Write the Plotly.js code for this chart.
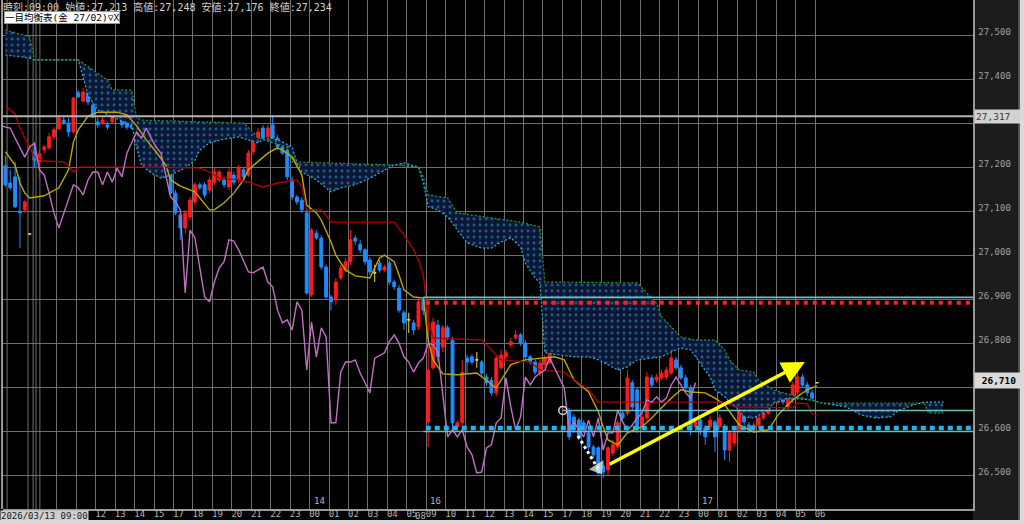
<!DOCTYPE html>
<html><head><meta charset="utf-8">
<script src="https://cdn.plot.ly/plotly-3.0.1.min.js"></script>
<style>
html,body{margin:0;padding:0;background:#d9d9d9;overflow:hidden;}
#chart{width:1020px;height:520px;}
</style></head>
<body><div id="chart"></div>
<script>
// ---- 15-minute candles (index = candle number), null = no candle ----
const opens = [27204,27165,27179,27101,27104,27049,27236,27213,27240,27245,27270,27288,27308,27301,27281,27370,27351,27370,27342,27304,27301,27297,27304,27324,27331,27304,27297,27290,27281,27251,27233,27240,27247,27201,27183,27142,27092,27063,27088,27122,27161,27161,27149,27167,27172,27172,27156,27183,27172,27195,27183,27236,27263,27290,27270,27297,27267,27247,27240,27172,27133,27126,27097,26911,27051,27040,26974,26906,26899,26949,26967,26986,27040,27026,27013,26990,26961,26983,26967,26983,26940,26926,26870,26854,26847,26838,26899,26622,26745,26842,26792,26836,26808,26611,26620,26767,26770,26763,26758,26724,26717,26688,26745,26770,26797,26813,26820,26801,26770,26758,26733,26752,26756,26804,26797,null,26647,26633,26626,26620,26597,26565,26563,26522,26513,26551,26565,26642,26642,26711,26695,26611,26631,26722,26717,26722,26724,26733,26763,26745,26722,26699,26611,26626,26608,26611,26622,26611,26611,26558,26574,26604,26638,26615,26604,26615,26631,26642,26679,26667,26679,26656,26672,26690,26724,26706,26688,26711];
const highs = [27227,27195,27213,27179,27126,27049,27256,27240,27251,27279,27292,27320,27320,27313,27361,27376,27381,27376,27349,27313,27315,27304,27342,27342,27336,27308,27304,27297,27290,27256,27251,27263,27256,27206,27190,27149,27099,27104,27133,27167,27167,27167,27179,27199,27195,27179,27199,27190,27206,27199,27240,27263,27290,27297,27297,27320,27274,27251,27245,27179,27138,27133,27104,27063,27058,27047,26979,26911,26949,26979,26995,27058,27047,27036,27017,26997,26979,26990,26979,26990,26945,26933,26876,26870,26854,26904,26904,26899,26858,26854,26842,26842,26815,26626,26763,26774,26776,26781,26763,26731,26724,26774,26786,26786,26813,26831,26824,26808,26774,26763,26763,26774,26808,26813,26804,null,26654,26640,26631,26626,26604,26570,26567,26535,26567,26581,26626,26649,26740,26717,26702,26640,26735,26729,26731,26740,26747,26781,26770,26752,26729,26706,26631,26633,26615,26636,26626,26640,26617,26604,26604,26661,26645,26622,26622,26638,26649,26681,26686,26686,26686,26683,26713,26747,26731,26713,26695,26711];
const lows = [27156,27149,27108,27017,27097,27049,27199,27176,27233,27240,27263,27286,27297,27270,27279,27358,27349,27342,27313,27290,27297,27286,27301,27320,27290,27286,27286,27263,27245,27217,27217,27236,27190,27176,27138,27092,27036,27051,27081,27115,27149,27131,27142,27161,27167,27154,27149,27161,27165,27172,27179,27229,27258,27263,27263,27263,27240,27229,27172,27126,27115,27097,26911,26906,27036,26967,26899,26876,26888,26945,26963,26979,27024,27006,26979,26956,26940,26961,26963,26933,26922,26870,26831,26824,26820,26831,26865,26565,26740,26758,26781,26808,26604,26599,26611,26733,26752,26745,26726,26704,26681,26681,26740,26763,26790,26808,26795,26763,26752,26729,26726,26745,26752,26790,26774,null,26581,26597,26581,26597,26558,26540,26501,26495,26501,26545,26558,26622,26636,26649,26597,26604,26624,26699,26711,26717,26717,26729,26740,26717,26695,26592,26599,26592,26570,26604,26554,26604,26535,26531,26567,26597,26615,26597,26597,26608,26626,26638,26661,26661,26661,26649,26665,26683,26699,26681,26672,26711];
const closes = [27161,27154,27111,27097,27122,27049,27217,27231,27247,27270,27286,27313,27301,27281,27358,27361,27372,27349,27315,27297,27308,27292,27331,27336,27297,27292,27290,27267,27247,27224,27247,27256,27195,27183,27142,27097,27063,27097,27126,27161,27154,27138,27172,27190,27190,27161,27190,27167,27199,27179,27233,27256,27281,27267,27290,27267,27247,27233,27179,27133,27122,27104,26915,27058,27040,26974,26906,26895,26940,26972,26986,27036,27033,27013,26986,26963,26961,26967,26974,26940,26929,26876,26847,26854,26831,26895,26876,26740,26849,26770,26836,26815,26620,26620,26735,26758,26758,26763,26733,26711,26688,26767,26774,26779,26804,26820,26801,26770,26758,26735,26756,26767,26801,26797,26781,null,26588,26604,26588,26604,26565,26547,26506,26508,26563,26570,26620,26631,26722,26656,26604,26633,26724,26706,26724,26733,26740,26767,26745,26722,26699,26604,26622,26604,26588,26626,26588,26631,26558,26597,26597,26649,26622,26604,26615,26631,26642,26672,26667,26679,26667,26676,26706,26724,26706,26688,26676,26711];

// ---- Ichimoku lines (x = candle index) ----
const tenkanX = [0,2,3,4,5,8,11,13,14,15,17,19,23,25,27,29,31,33,34,36,39,40,42,43,45,47,49,50,52,54,56,57,59,61,62,64,65,67,68,70,72,75,76,77,78,80,81,82,84,86,87,88,90,93,97,99,101,102,104,107,110,113,115,117,120,122,123,124,126,128,131,133,135,137,139,141,144,146,148,151,154,157,159,162,165,167];
const tenkanY = [27236,27206,27165,27142,27131,27136,27154,27195,27258,27286,27317,27326,27326,27320,27295,27263,27236,27206,27172,27158,27145,27131,27104,27104,27120,27142,27172,27195,27213,27233,27245,27240,27224,27183,27115,27097,27081,27031,27001,26967,26954,26949,26972,26995,27001,26986,26956,26922,26906,26904,26808,26763,26731,26729,26733,26717,26699,26717,26752,26763,26767,26770,26763,26717,26690,26645,26611,26581,26570,26597,26611,26631,26654,26676,26695,26690,26688,26676,26661,26615,26599,26604,26638,26672,26695,26704];
const kijunX = [0,2,3,4,6,8,12,13,14,15,32,40,42,44,48,50,53,56,60,61,62,65,67,80,82,84,85,86,87,88,98,100,102,108,110,115,117,120,122,148,150,162,163,165,166,167];
const kijunY = [27340,27322,27292,27267,27224,27215,27213,27204,27190,27201,27201,27199,27190,27176,27172,27167,27156,27165,27172,27156,27104,27104,27076,27076,27047,27013,26990,26956,26854,26813,26808,26786,26763,26758,26740,26735,26717,26695,26667,26667,26656,26654,26665,26663,26640,26638];
const spanAX = [0,5,6,15,17,19,22,26,27,28,30,32,34,37,39,40,42,45,48,50,52,53,55,57,59,60,61,64,66,67,69,72,75,78,80,82,85,86,87,89,91,95,98,100,102,104,106,107,109,110,111,114,117,120,122,124,126,128,130,133,135,137,139,141,143,145,146,148,149,151,152,154,157,158,161,166,168,173,176,179,182,184,187,189,193];
const spanAY = [27456,27449,27445,27445,27365,27331,27315,27297,27247,27206,27188,27176,27183,27199,27217,27240,27256,27265,27270,27263,27256,27263,27267,27258,27247,27211,27190,27172,27154,27145,27154,27161,27176,27195,27206,27211,27201,27165,27111,27104,27088,27029,27017,27017,27031,27040,27020,26983,26949,26938,26779,26774,26770,26770,26763,26752,26740,26747,26763,26767,26770,26781,26790,26786,26756,26724,26695,26679,26667,26649,26633,26631,26649,26665,26676,26672,26665,26656,26638,26631,26633,26649,26661,26667,26667];
const spanBX = [0,5,6,15,21,22,26,27,28,49,51,52,58,59,80,85,86,87,91,93,106,110,111,130,132,134,135,137,139,142,146,148,149,151,154,155,158,163,168,189,190,193];
const spanBY = [27513,27497,27445,27445,27399,27376,27376,27315,27308,27301,27281,27267,27247,27213,27206,27201,27179,27138,27131,27097,27076,27065,26940,26938,26915,26892,26861,26838,26815,26808,26808,26786,26763,26740,26735,26717,26695,26679,26665,26665,26642,26642];
const CHIKOU_SHIFT = 25;

// ---- axis ticks (27,300 and 26,700 labels sit under the price boxes) ----
const priceTicks = [26500,26600,26700,26800,26900,27000,27100,27200,27300,27400,27500];
const priceTickText = ['26,500','26,600','','26,800','26,900','27,000','27,100','27,200','','27,400','27,500'];
const hourLabels = ['','','12','13','14','15','17','18','19','20','21','22','23','00','01','02','03','04','05','09','10','11','12','13','14','15','17','18','19','20','21','22','23','00','01','02','03','04','05','06'];
const FIRST_HOUR_IDX = 10.6, CANDLES_PER_HOUR = 4;
const sessionMarks = [0.35, 4.65, 5.7, 6.3, 7.1];
const dayLabels = ['14','16','17'];
const dayLabelHour = [13, 19, 33];
const extraHourLabel = {text:'08', idx:85.5};

// ---- drawn levels & notes ----
const highLevel = 27317;
const lastPrice = 26710;
const bottomPriceLabel = 26400;
const resistanceLevel = 26893, resistanceStart = 86.5;
const upperTealLevel = 26905, upperTealStart = 86;
const supportLevel = 26608, supportStart = 86.5;
const lowerTealLevel = 26600, lowerTealStart = 86;
const midTealLevel = 26648, midTealStart = 114.7;
const closeMarkX = [114.7], closeMarkY = [26648];
const yellowArrowX = [124, 164.5], yellowArrowY = [26524, 26758];
const whiteArrowX = [117.8, 121.9], whiteArrowY = [26590, 26517];
const headerText = '時刻:09:00 始値:27,213 高値:27,248 安値:27,176 終値:27,234';
const indicatorText = '一目均衡表(金 27/02)▽X';
const cursorTime = '2026/03/13 09:00';

const X_RANGE = [-0.49, 199.1];
const Y_RANGE = [26424, 27581];

// ---- build ----
const idx = opens.map((_, i) => i);
const mainC = {x:[],open:[],high:[],low:[],close:[]};
const dojiC = {x:[],open:[],high:[],low:[],close:[]};
idx.forEach(i => {
  if (opens[i] === null) return;
  const t = (opens[i] === closes[i]) ? dojiC : mainC;
  t.x.push(i); t.open.push(opens[i]); t.high.push(highs[i]); t.low.push(lows[i]); t.close.push(closes[i]);
});
const hourTickVals = hourLabels.map((_, k) => FIRST_HOUR_IDX + k * CANDLES_PER_HOUR);

const RED = '#ff1a1a', BLUE = '#1e8cff', DOJI = '#e4dc3c';
const GRID = '#6e6e6e';
const traces = [
  {type:'scatter', mode:'lines', x:spanAX, y:spanAY, line:{color:'#38b0c6', width:1.2, dash:'2px,2px'}, hoverinfo:'skip'},
  {type:'scatter', mode:'lines', x:spanBX, y:spanBY, line:{color:'#2c9c2c', width:1.2, dash:'2px,2px'},
   fill:'tonexty', fillcolor:'#0a1836',
   fillpattern:{shape:'.', fgcolor:'#25598c', bgcolor:'#0a1836', size:6, solidity:0.18}, hoverinfo:'skip'},
  {type:'candlestick', x:mainC.x, open:mainC.open, high:mainC.high, low:mainC.low, close:mainC.close,
   increasing:{line:{color:RED, width:1}, fillcolor:RED},
   decreasing:{line:{color:BLUE, width:1}, fillcolor:BLUE}, whiskerwidth:0, hoverinfo:'skip'},
  {type:'candlestick', x:dojiC.x, open:dojiC.open, high:dojiC.high, low:dojiC.low, close:dojiC.close,
   increasing:{line:{color:DOJI, width:1}, fillcolor:DOJI},
   decreasing:{line:{color:DOJI, width:1}, fillcolor:DOJI}, whiskerwidth:0, hoverinfo:'skip'},
  {type:'scatter', mode:'lines', x:tenkanX, y:tenkanY, line:{color:'#bba800', width:1.4}, hoverinfo:'skip'},
  {type:'scatter', mode:'lines', x:kijunX, y:kijunY, line:{color:'#b00000', width:1.3}, hoverinfo:'skip'},
  {type:'scatter', mode:'lines', x:idx.map(i => i - CHIKOU_SHIFT), y:closes, connectgaps:true,
   line:{color:'#c070c4', width:1.4}, hoverinfo:'skip'},
  {type:'scatter', mode:'lines+markers', x:whiteArrowX, y:whiteArrowY,
   line:{color:'#ffffff', width:3, dash:'dot'},
   marker:{symbol:'triangle-up', angleref:'previous', size:[0,13], color:'#ffffff'}, hoverinfo:'skip'},
  {type:'scatter', mode:'markers', x:closeMarkX, y:closeMarkY,
   marker:{symbol:'circle-open', size:8, color:'#d8d8d8', line:{width:1.5, color:'#d8d8d8'}}, hoverinfo:'skip'}
];

function hLine(level, start, color, width, dash) {
  return {type:'line', xref:'x', yref:'y', x0:start, x1:X_RANGE[1], y0:level, y1:level,
          line:{color:color, width:width, dash:dash || 'solid'}, layer:'above'};
}
const shapes = [
  {type:'rect', xref:'paper', yref:'paper', x0:1, x1:1.05, y0:-0.03, y1:1, fillcolor:'#1c1c1c', line:{width:0}, layer:'below'},
  {type:'line', xref:'paper', yref:'paper', x0:1.0475, x1:1.0475, y0:-0.03, y1:1, line:{color:'#8a8a8a', width:1}},
  {type:'line', xref:'paper', yref:'paper', x0:-0.001, x1:-0.001, y0:0, y1:1, line:{color:'#9a9a9a', width:2}},
  hLine(highLevel, X_RANGE[0], '#b4b4b4', 2),
  hLine(upperTealLevel, upperTealStart, '#72bcbc', 1.6),
  hLine(resistanceLevel, resistanceStart, '#ff2020', 4, '4px,5px'),
  hLine(midTealLevel, midTealStart, '#72bcbc', 1.6),
  hLine(lowerTealLevel, lowerTealStart, '#72bcbc', 1.6),
  hLine(supportLevel, supportStart, '#22b4ec', 4.5, '5px,4px')
].concat(sessionMarks.map(v => ({type:'line', xref:'x', yref:'paper', x0:v, x1:v, y0:0, y1:1,
  line:{color:GRID, width:1}, layer:'below'})));

const monoFont = 'DejaVu Sans Mono, Noto Sans CJK JP, monospace';
const annotations = [
  {xref:'paper', yref:'paper', x:0, y:1, xanchor:'left', yanchor:'top', showarrow:false, xshift:-2, yshift:1,
   text:headerText, font:{family:monoFont, size:10, color:'#d2d2d2'}},
  {xref:'paper', yref:'paper', x:0, y:1, xanchor:'left', yanchor:'top', showarrow:false, yshift:-11, xshift:1,
   text:indicatorText, font:{family:monoFont, size:9.5, color:'#000000'}, bgcolor:'#ffffff',
   bordercolor:'#9a9a9a', borderwidth:1, borderpad:0},
  {xref:'paper', yref:'paper', x:0, y:0, xanchor:'left', yanchor:'top', showarrow:false, xshift:-3, yshift:-1,
   text:cursorTime, font:{family:monoFont, size:9, color:'#1a1a1a'}, bgcolor:'#cfcfcf', borderpad:0},
  {xref:'x', yref:'paper', x:extraHourLabel.idx, y:0, xanchor:'center', yanchor:'top', showarrow:false, yshift:0,
   text:extraHourLabel.text, font:{family:monoFont, size:9, color:'#b4b4b4'}},
  {xref:'paper', yref:'y', x:1, y:highLevel, xanchor:'left', showarrow:false, xshift:1, yshift:0,
   text:'27,317', font:{family:monoFont, size:9.5, color:'#3a3a3a'}, bgcolor:'#d2d2d2', width:44, align:'left', borderpad:1},
  {xref:'paper', yref:'y', x:1, y:lastPrice, xanchor:'left', showarrow:false, xshift:1, yshift:3,
   text:'<b>26,710</b>', font:{family:monoFont, size:9.5, color:'#000000'}, bgcolor:'#dadada', width:44, align:'center', borderpad:2},
  {xref:'paper', yref:'y', x:1, y:bottomPriceLabel, xanchor:'left', showarrow:false, xshift:1, yshift:5,
   text:'26,400', font:{family:monoFont, size:9, color:'#a0a0a0'}},
  {xref:'x', yref:'y', x:yellowArrowX[1], y:yellowArrowY[1], axref:'x', ayref:'y', ax:yellowArrowX[0], ay:yellowArrowY[0],
   showarrow:true, arrowhead:2, arrowsize:1.3, arrowwidth:3.5, arrowcolor:'#ffff00', text:'', standoff:0}
].concat(dayLabels.map((t, j) => ({xref:'x', yref:'paper', x:hourTickVals[dayLabelHour[j]], y:0,
  xanchor:'left', yanchor:'bottom', showarrow:false, xshift:2, yshift:1,
  text:t, font:{family:monoFont, size:9, color:'#b4b4b4'}})));

const layout = {
  width:1020, height:520,
  margin:{l:3, r:47, t:0, b:11, pad:0},
  paper_bgcolor:'#000000', plot_bgcolor:'#000000',
  showlegend:false, boxgap:0.16,
  xaxis:{range:X_RANGE, tickmode:'array', tickvals:hourTickVals, ticktext:hourLabels,
    showgrid:true, gridcolor:GRID, gridwidth:1, zeroline:false,
    showline:true, linecolor:'#9a9a9a', linewidth:1.5, ticks:'',
    tickfont:{family:monoFont, size:9, color:'#b4b4b4'}, ticklabelshift:5, ticklabelstandoff:-4,
    rangeslider:{visible:false}, fixedrange:true},
  yaxis:{range:Y_RANGE, side:'right', tickmode:'array', tickvals:priceTicks, ticktext:priceTickText,
    showgrid:true, gridcolor:GRID, gridwidth:1, zeroline:false,
    showline:true, linecolor:'#9a9a9a', linewidth:1.5, ticks:'',
    tickfont:{family:monoFont, size:9, color:'#a0a0a0'}, ticklabelshift:-4, ticklabelstandoff:2, fixedrange:true},
  shapes:shapes, annotations:annotations
};
Plotly.newPlot('chart', traces, layout, {staticPlot:true, displayModeBar:false});
</script>
</body></html>
